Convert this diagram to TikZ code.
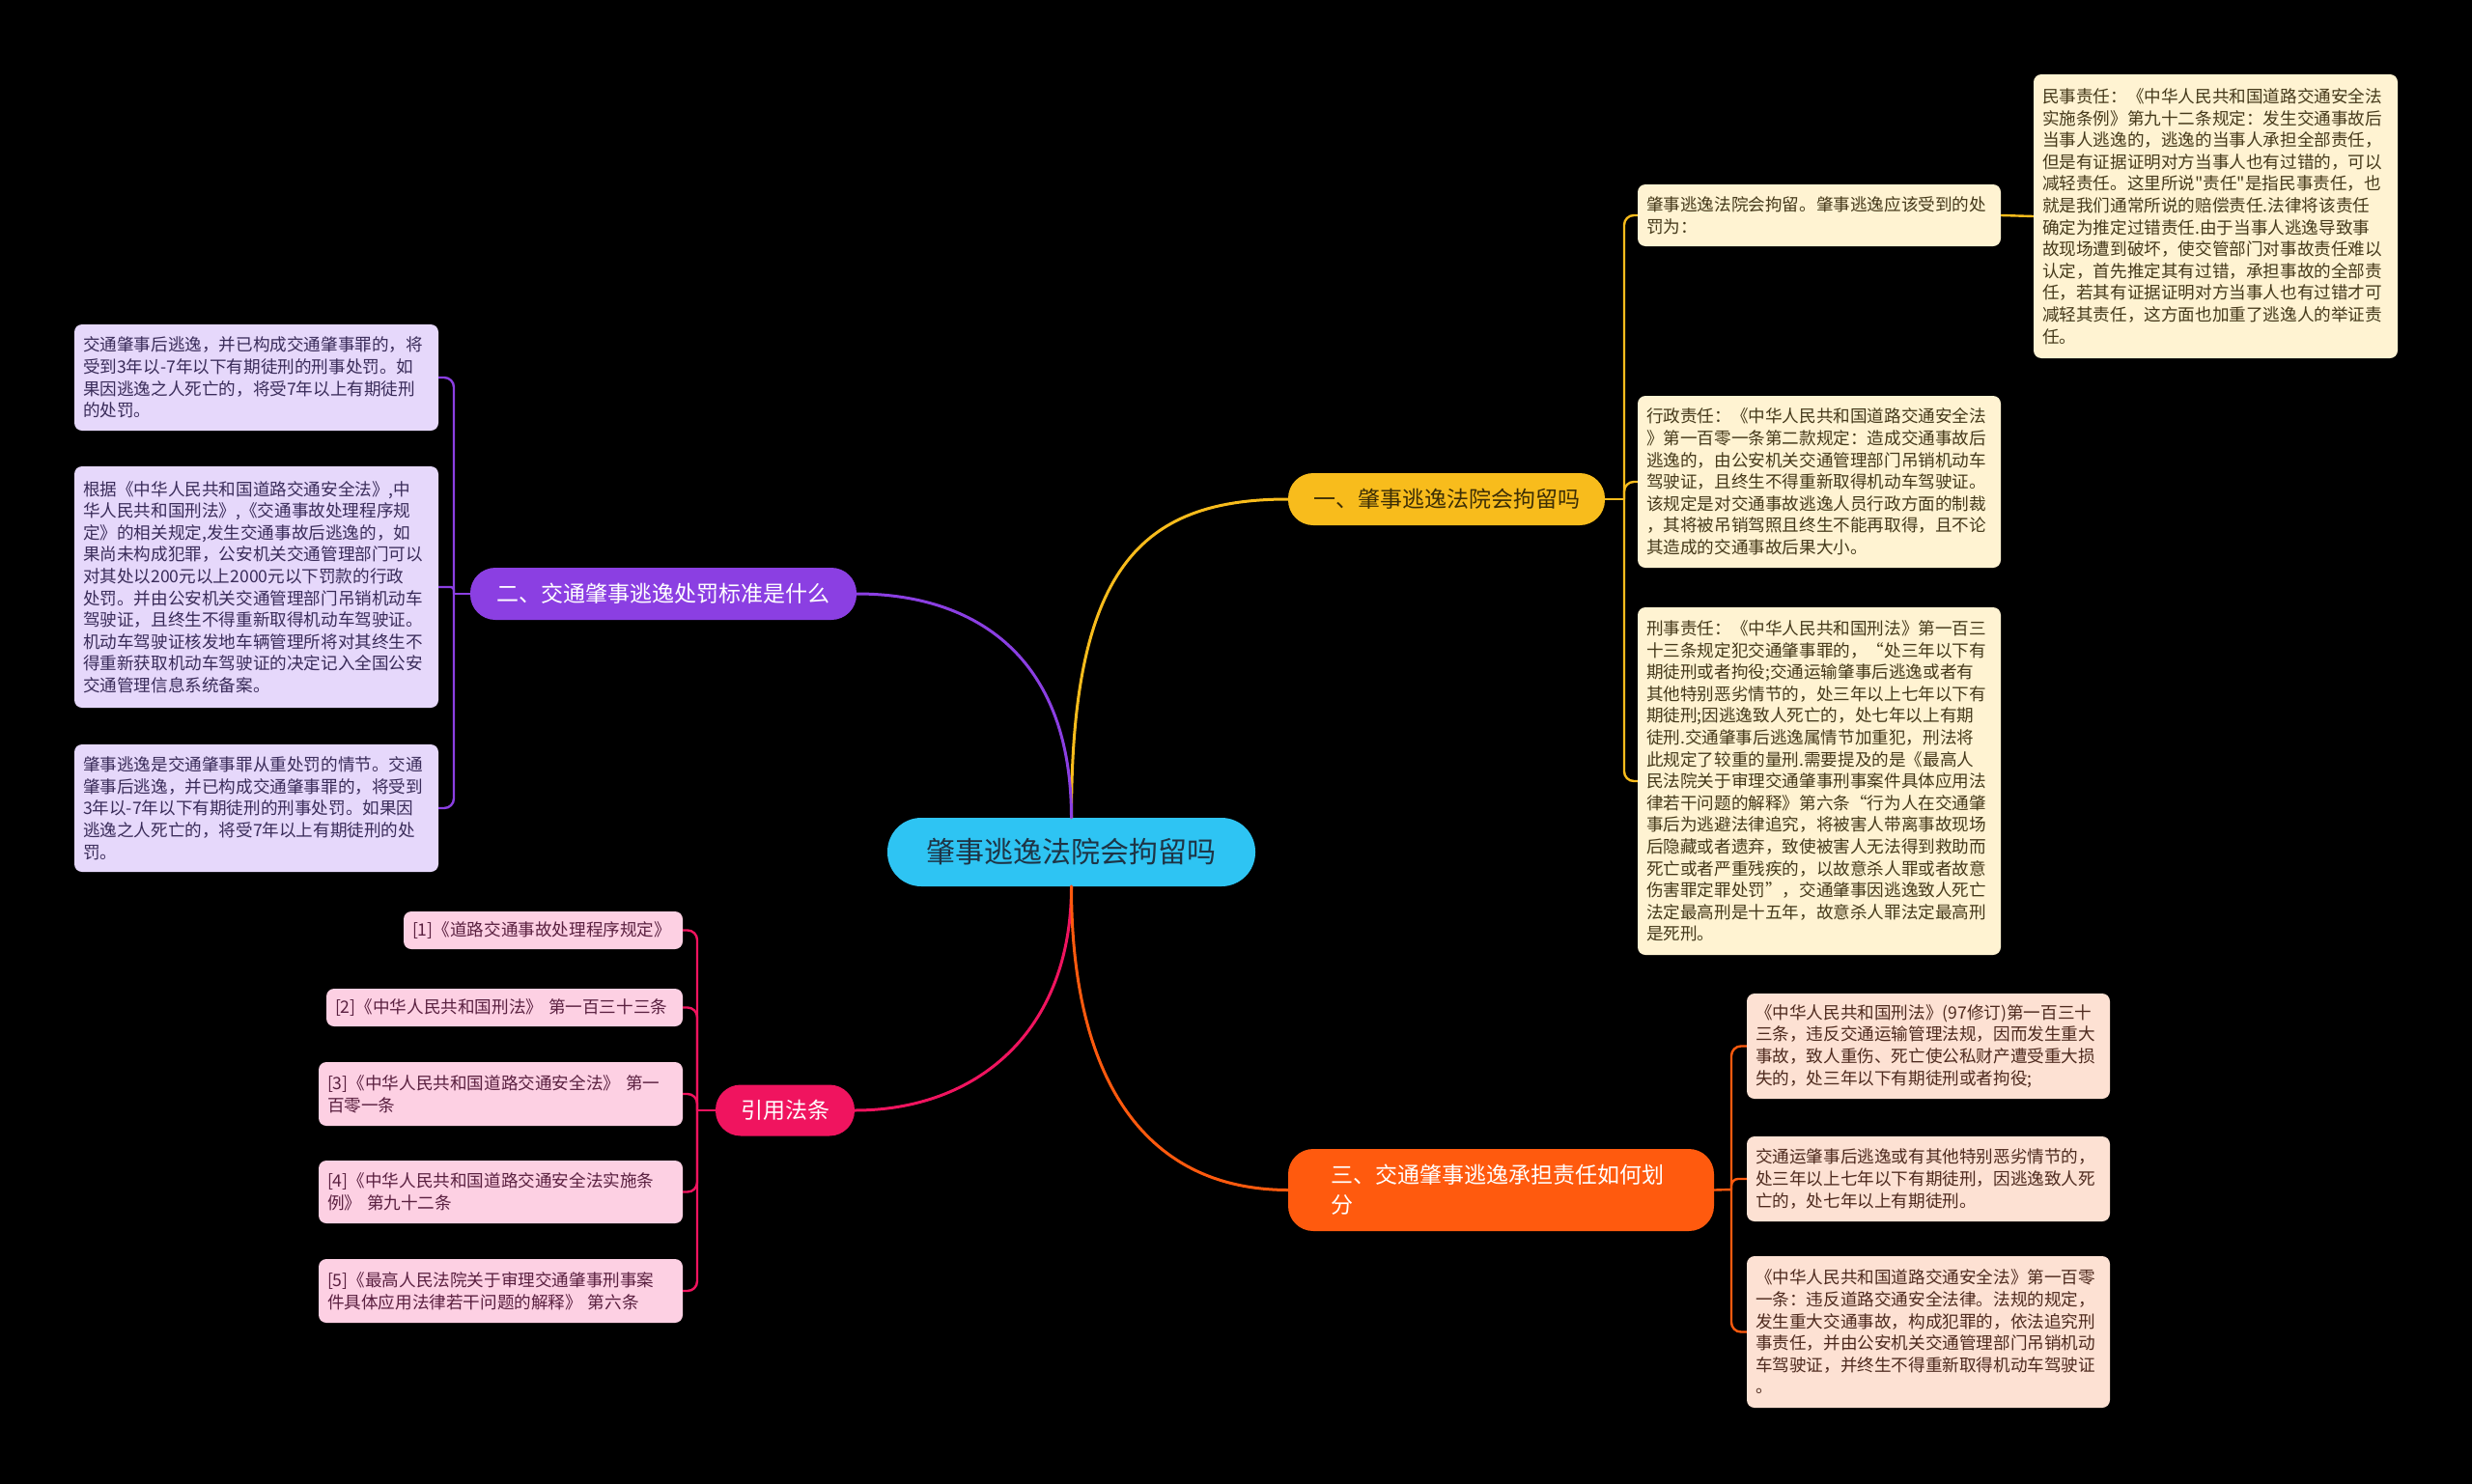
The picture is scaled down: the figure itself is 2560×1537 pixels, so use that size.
\documentclass[tikz,border=0pt]{standalone}
\usepackage{fontspec}
\setmainfont{Noto Sans CJK SC}
\newfontfamily\plainq{Noto Sans CJK SC}
\definecolor{bg}{HTML}{000000}
\definecolor{cfill}{HTML}{2EC4F3}
\definecolor{ctext}{HTML}{1E3445}
\definecolor{yel}{HTML}{F8BC1C}
\definecolor{yeltext}{HTML}{3D2E05}
\definecolor{pur}{HTML}{8B3FE2}
\definecolor{ora}{HTML}{FF5A0E}
\definecolor{red}{HTML}{F0145F}
\definecolor{leafY}{HTML}{FFF3D2}
\definecolor{leafYt}{HTML}{45391A}
\definecolor{leafP}{HTML}{E6D8FB}
\definecolor{leafPt}{HTML}{3A2C5A}
\definecolor{leafO}{HTML}{FDE1D3}
\definecolor{leafOt}{HTML}{4E2A1E}
\definecolor{leafR}{HTML}{FDD0E3}
\definecolor{leafRt}{HTML}{5A2040}
\tikzset{
  leafbox/.style={rounded corners=8, inner xsep=9, inner ysep=0, align=left,
    font=\fontsize{17.6}{22.6}\selectfont},
  ly/.style={leafbox, fill=leafY, text=leafYt},
  lp/.style={leafbox, fill=leafP, text=leafPt},
  lo/.style={leafbox, fill=leafO, text=leafOt},
  lr/.style={leafbox, fill=leafR, text=leafRt},
  branchbox/.style={rounded corners=26, inner xsep=12, inner ysep=0,
    font=\fontsize{23}{31}\selectfont},
  mainline/.style={line width=3pt, line cap=round},
  leafline/.style={line width=2.4pt, rounded corners=10},
}
\begin{document}
\begin{tikzpicture}[x=1pt,y=-1pt]
\fill[bg] (0,0) rectangle (2560,1537);
\useasboundingbox (0,0) rectangle (2560,1537);

% center
\node[fill=cfill, text=ctext, rounded corners=35, minimum width=381, minimum height=71,
  font=\fontsize{30}{36}\selectfont] (c) at (1109.5,882.5) {肇事逃逸法院会拘留吗};

% branches
\node[branchbox, fill=yel, text=yeltext, minimum width=328, minimum height=54] (b1) at (1498,517) {一、肇事逃逸法院会拘留吗};
\node[branchbox, fill=pur, text=white, minimum width=400, minimum height=54] (b2) at (687,615) {二、交通肇事逃逸处罚标准是什么};
\node[branchbox, fill=ora, text=white, inner xsep=44, minimum width=441, minimum height=85, text width=353, align=left] (b3) at (1554.5,1232.5) {三、交通肇事逃逸承担责任如何划\\分};
\node[branchbox, fill=red, text=white, minimum width=144, minimum height=53] (b4) at (813,1150) {引用法条};

% branch 1 leaves
\node[ly, minimum width=376, minimum height=64, text width=358] (l1a) at (1884,223) {肇事逃逸法院会拘留。肇事逃逸应该受到的处\\罚为：};
\node[ly, minimum width=377, minimum height=294, text width=359] (l1b) at (2294.5,224) {民事责任：《中华人民共和国道路交通安全法\\实施条例》第九十二条规定：发生交通事故后\\当事人逃逸的，逃逸的当事人承担全部责任，\\但是有证据证明对方当事人也有过错的，可以\\减轻责任。这里所说{\plainq"}责任{\plainq"}是指民事责任，也\\就是我们通常所说的赔偿责任.法律将该责任\\确定为推定过错责任.由于当事人逃逸导致事\\故现场遭到破坏，使交管部门对事故责任难以\\认定，首先推定其有过错，承担事故的全部责\\任，若其有证据证明对方当事人也有过错才可\\减轻其责任，这方面也加重了逃逸人的举证责\\任。};
\node[ly, minimum width=376, minimum height=178, text width=358] (l1c) at (1884,499) {行政责任：《中华人民共和国道路交通安全法\\》第一百零一条第二款规定：造成交通事故后\\逃逸的，由公安机关交通管理部门吊销机动车\\驾驶证，且终生不得重新取得机动车驾驶证。\\该规定是对交通事故逃逸人员行政方面的制裁\\，其将被吊销驾照且终生不能再取得，且不论\\其造成的交通事故后果大小。};
\node[ly, minimum width=376, minimum height=360, text width=358] (l1d) at (1884,809) {刑事责任：《中华人民共和国刑法》第一百三\\十三条规定犯交通肇事罪的，“处三年以下有\\期徒刑或者拘役;交通运输肇事后逃逸或者有\\其他特别恶劣情节的，处三年以上七年以下有\\期徒刑;因逃逸致人死亡的，处七年以上有期\\徒刑.交通肇事后逃逸属情节加重犯，刑法将\\此规定了较重的量刑.需要提及的是《最高人\\民法院关于审理交通肇事刑事案件具体应用法\\律若干问题的解释》第六条“行为人在交通肇\\事后为逃避法律追究，将被害人带离事故现场\\后隐藏或者遗弃，致使被害人无法得到救助而\\死亡或者严重残疾的，以故意杀人罪或者故意\\伤害罪定罪处罚”，交通肇事因逃逸致人死亡\\法定最高刑是十五年，故意杀人罪法定最高刑\\是死刑。};

% branch 3 leaves
\node[lo, minimum width=376, minimum height=109, text width=358] (l3a) at (1997,1083.5) {《中华人民共和国刑法》(97修订)第一百三十\\三条，违反交通运输管理法规，因而发生重大\\事故，致人重伤、死亡使公私财产遭受重大损\\失的，处三年以下有期徒刑或者拘役;};
\node[lo, minimum width=376, minimum height=88, text width=358] (l3b) at (1997,1221) {交通运肇事后逃逸或有其他特别恶劣情节的，\\处三年以上七年以下有期徒刑，因逃逸致人死\\亡的，处七年以上有期徒刑。};
\node[lo, minimum width=376, minimum height=157, text width=358] (l3c) at (1997,1379.5) {《中华人民共和国道路交通安全法》第一百零\\一条：违反道路交通安全法律。法规的规定，\\发生重大交通事故，构成犯罪的，依法追究刑\\事责任，并由公安机关交通管理部门吊销机动\\车驾驶证，并终生不得重新取得机动车驾驶证\\。};

% branch 2 leaves
\node[lp, minimum width=377, minimum height=110, text width=359] (l2a) at (265.5,391) {交通肇事后逃逸，并已构成交通肇事罪的，将\\受到3年以-7年以下有期徒刑的刑事处罚。如\\果因逃逸之人死亡的，将受7年以上有期徒刑\\的处罚。};
\node[lp, minimum width=377, minimum height=250, text width=359] (l2b) at (265.5,608) {根据《中华人民共和国道路交通安全法》,中\\华人民共和国刑法》,《交通事故处理程序规\\定》的相关规定,发生交通事故后逃逸的，如\\果尚未构成犯罪，公安机关交通管理部门可以\\对其处以200元以上2000元以下罚款的行政\\处罚。并由公安机关交通管理部门吊销机动车\\驾驶证，且终生不得重新取得机动车驾驶证。\\机动车驾驶证核发地车辆管理所将对其终生不\\得重新获取机动车驾驶证的决定记入全国公安\\交通管理信息系统备案。};
\node[lp, minimum width=377, minimum height=132, text width=359] (l2c) at (265.5,837) {肇事逃逸是交通肇事罪从重处罚的情节。交通\\肇事后逃逸，并已构成交通肇事罪的，将受到\\3年以-7年以下有期徒刑的刑事处罚。如果因\\逃逸之人死亡的，将受7年以上有期徒刑的处\\罚。};

% branch 4 leaves
\node[lr, minimum width=289, minimum height=39, text width=271] (l4a) at (562.5,963.5) {[1]《道路交通事故处理程序规定》};
\node[lr, minimum width=369, minimum height=39, text width=351] (l4b) at (522.5,1043.5) {[2]《中华人民共和国刑法》 第一百三十三条};
\node[lr, minimum width=377, minimum height=66, text width=359] (l4c) at (518.5,1133) {[3]《中华人民共和国道路交通安全法》 第一\\百零一条};
\node[lr, minimum width=377, minimum height=65, text width=359] (l4d) at (518.5,1234.5) {[4]《中华人民共和国道路交通安全法实施条\\例》 第九十二条};
\node[lr, minimum width=377, minimum height=66, text width=359] (l4e) at (518.5,1337) {[5]《最高人民法院关于审理交通肇事刑事案\\件具体应用法律若干问题的解释》 第六条};

% main connectors
\draw[mainline, yel] (c.north) .. controls (1109.5,590) and (1180,517) .. (b1.west);
\draw[mainline, pur] (c.north) .. controls (1109.5,680) and (1010,615) .. (b2.east);
\draw[mainline, red] (c.south) .. controls (1109.5,1070) and (1010,1150) .. (b4.east);
\draw[mainline, ora] (c.south) .. controls (1109.5,1110) and (1180,1232) .. (b3.west);

% branch 1 spine
\coordinate (s1) at (1682,517);
\draw[leafline, yel] (b1.east) -- (s1);
\draw[leafline, yel] (s1) |- (l1a.west);
\draw[leafline, yel] (s1) |- (l1c.west);
\draw[leafline, yel] (s1) |- (l1d.west);
\draw[leafline, yel] (l1a.east) -- (l1b.west);

% branch 2 spine
\coordinate (s2) at (470,615);
\draw[leafline, pur] (b2.west) -- (s2);
\draw[leafline, pur] (s2) |- (l2a.east);
\draw[leafline, pur, rounded corners=3] (s2) |- (l2b.east);
\draw[leafline, pur] (s2) |- (l2c.east);

% branch 3 spine
\coordinate (s3) at (1793,1232);
\draw[leafline, ora] (b3.east) -- (s3);
\draw[leafline, ora] (s3) |- (l3a.west);
\draw[leafline, ora, rounded corners=7] (s3) |- (l3b.west);
\draw[leafline, ora] (s3) |- (l3c.west);

% branch 4 spine
\coordinate (s4) at (722,1150);
\draw[leafline, red] (b4.west) -- (s4);
\draw[leafline, red] (s4) |- (l4a.east);
\draw[leafline, red] (s4) |- (l4b.east);
\draw[leafline, red] (s4) |- (l4c.east);
\draw[leafline, red] (s4) |- (l4d.east);
\draw[leafline, red] (s4) |- (l4e.east);
\end{tikzpicture}
\end{document}
